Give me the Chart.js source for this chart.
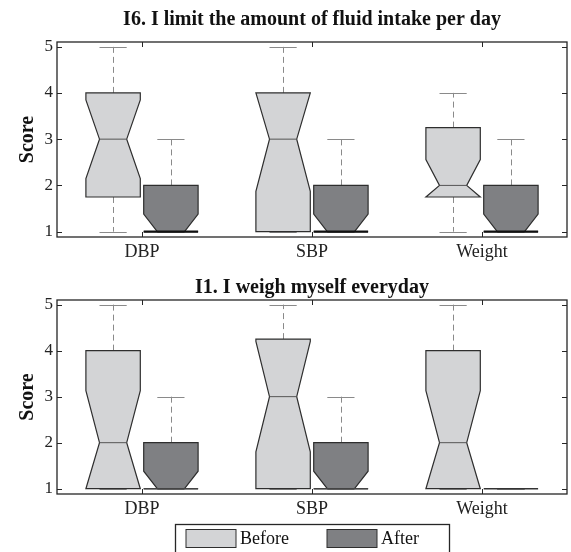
<!DOCTYPE html>
<html>
<head>
<meta charset="utf-8">
<script src="https://cdn.jsdelivr.net/npm/chart.js@4.4.0/dist/chart.umd.min.js"></script>
<style>
  body { margin: 0; background: #fff; }
  #wrap { position: relative; width: 571px; height: 552px; overflow: hidden; }
  #wrap canvas { position: absolute; left: 0; }
  #topChart { top: 0; }
  #botChart { top: 270px; }
</style>
</head>
<body>
<div id="wrap">
  <canvas id="topChart" width="571" height="270"></canvas>
  <canvas id="botChart" width="571" height="282"></canvas>
</div>
<script>
// Data: [min, q1, median, q3, max] per category
const categories = ["DBP", "SBP", "Weight"];
const groups = ["Before", "After"];
const groupColors = ["#d3d4d6", "#7f8083"];

const i6Before = [[1, 1.75, 3, 4, 5], [1, 1, 3, 4, 5], [1, 1.75, 2, 3.25, 4]];
const i6BeforeNotch = [0.85, 1.13, 0.56];
const i6After = [[1, 1, 1, 2, 3], [1, 1, 1, 2, 3], [1, 1, 1, 2, 3]];
const i6AfterNotch = [0.38, 0.38, 0.38];

const i1Before = [[1, 1, 2, 4, 5], [1, 1, 3, 4.25, 5], [1, 1, 2, 4, 5]];
const i1BeforeNotch = [1.13, 1.2, 1.13];
const i1After = [[1, 1, 1, 2, 3], [1, 1, 1, 2, 3], [1, 1, 1, 1, 1]];
const i1AfterNotch = [0.38, 0.38, 0];

const yTicks = [1, 2, 3, 4, 5];

const serif = "'Liberation Serif', 'Times New Roman', serif";
const offset = 0.17;
const halfBox = 0.16;

// draws notched boxes, frame and inward ticks
const notchBoxes = {
  id: "notchBoxes",
  afterDatasetsDraw(chart, args, opts) {
    const { ctx, chartArea: a, scales: { x, y } } = chart;
    const sets = [[opts.before, opts.beforeNotch], [opts.after, opts.afterNotch]];
    ctx.save();
    sets.forEach(([stats, notch], g) => {
      stats.forEach((s, i) => {
        const [mn, q1, med, q3, mx] = s;
        const c = i + 1 + (g === 0 ? -offset : offset);
        const L = x.getPixelForValue(c - halfBox);
        const R = x.getPixelForValue(c + halfBox);
        const C = Math.round(x.getPixelForValue(c)) + 0.5;
        const capL = x.getPixelForValue(c - halfBox / 2);
        const capR = x.getPixelForValue(c + halfBox / 2);
        const d = (R - L) / 4;
        // whiskers
        ctx.strokeStyle = "#8a8a8a";
        ctx.lineWidth = 1;
        ctx.setLineDash([6, 4]);
        ctx.beginPath();
        if (mx > q3) { ctx.moveTo(C, y.getPixelForValue(q3)); ctx.lineTo(C, y.getPixelForValue(mx)); }
        if (mn < q1) { ctx.moveTo(C, y.getPixelForValue(q1)); ctx.lineTo(C, y.getPixelForValue(mn)); }
        ctx.stroke();
        ctx.setLineDash([]);
        ctx.beginPath();
        [mn, mx].forEach(v => {
          const py = Math.round(y.getPixelForValue(v)) + 0.5;
          ctx.moveTo(capL, py); ctx.lineTo(capR, py);
        });
        ctx.stroke();
        if (q3 === q1) {
          ctx.strokeStyle = "#333";
          ctx.lineWidth = 1.5;
          ctx.beginPath();
          const py = y.getPixelForValue(q1);
          ctx.moveTo(L, py); ctx.lineTo(R, py);
          ctx.stroke();
          return;
        }
        // notched box
        const lo = Math.max(med - notch[i], q1);
        const hi = Math.min(med + notch[i], q3);
        const p = v => y.getPixelForValue(v);
        ctx.beginPath();
        ctx.moveTo(L, p(q1));
        ctx.lineTo(R, p(q1));
        ctx.lineTo(R, p(lo));
        ctx.lineTo(R - d, p(med));
        ctx.lineTo(R, p(hi));
        ctx.lineTo(R, p(q3));
        ctx.lineTo(L, p(q3));
        ctx.lineTo(L, p(hi));
        ctx.lineTo(L + d, p(med));
        ctx.lineTo(L, p(lo));
        ctx.closePath();
        ctx.fillStyle = groupColors[g];
        ctx.fill();
        ctx.strokeStyle = "#2e2e2e";
        ctx.lineWidth = 1.2;
        ctx.stroke();
        // median
        ctx.beginPath();
        if (med === q1) {
          ctx.strokeStyle = opts.lowMedColor;
          ctx.lineWidth = opts.lowMedWidth;
          ctx.moveTo(L, p(med)); ctx.lineTo(R, p(med));
        } else {
          ctx.strokeStyle = "#555";
          ctx.lineWidth = 1;
          ctx.moveTo(L + d, p(med)); ctx.lineTo(R - d, p(med));
        }
        ctx.stroke();
      });
    });
    // frame
    ctx.strokeStyle = "#262626";
    ctx.lineWidth = 1.3;
    ctx.strokeRect(a.left, a.top, a.right - a.left, a.bottom - a.top);
    // inward ticks
    ctx.lineWidth = 1;
    ctx.beginPath();
    x.ticks.forEach(t => {
      const px = Math.round(x.getPixelForValue(t.value)) + 0.5;
      ctx.moveTo(px, a.bottom); ctx.lineTo(px, a.bottom - 5);
      ctx.moveTo(px, a.top); ctx.lineTo(px, a.top + 5);
    });
    y.ticks.forEach(t => {
      const py = Math.round(y.getPixelForValue(t.value)) + 0.5;
      ctx.moveTo(a.left, py); ctx.lineTo(a.left + 5, py);
      ctx.moveTo(a.right, py); ctx.lineTo(a.right - 5, py);
    });
    ctx.stroke();
    ctx.restore();
  },
  afterDraw(chart, args, opts) {
    if (!opts.legend) return;
    const { ctx, chartArea: a } = chart;
    const cx = (a.left + a.right) / 2;
    const left = Math.round(cx - 137) + 0.5;
    const top = a.bottom + 30.5;
    ctx.save();
    ctx.strokeStyle = "#262626";
    ctx.lineWidth = 1.3;
    ctx.strokeRect(left, top, 274, 40);
    ctx.font = "18px " + serif;
    ctx.textBaseline = "middle";
    ctx.textAlign = "left";
    groups.forEach((name, g) => {
      const sx = left + 10.5 + g * 141;
      ctx.fillStyle = groupColors[g];
      ctx.fillRect(sx, top + 5, 50, 18);
      ctx.strokeStyle = "#2e2e2e";
      ctx.lineWidth = 1;
      ctx.strokeRect(sx, top + 5, 50, 18);
      ctx.fillStyle = "#111";
      ctx.fillText(name, sx + 54, top + 15);
    });
    ctx.restore();
  }
};

function makeChart(id, title, before, beforeNotch, after, afterNotch, cfg) {
  const medians = (stats, g) => stats.map((s, i) => ({ x: i + 1 + (g === 0 ? -offset : offset), y: s[2] }));
  return new Chart(document.getElementById(id), {
    type: "scatter",
    data: {
      datasets: [
        { label: groups[0], data: medians(before, 0), pointRadius: 0 },
        { label: groups[1], data: medians(after, 1), pointRadius: 0 }
      ]
    },
    options: {
      responsive: false,
      animation: false,
      layout: { padding: { left: 0, right: 4, top: 0, bottom: cfg.padBottom } },
      plugins: {
        legend: { display: false },
        tooltip: { enabled: false },
        title: {
          display: true,
          text: title,
          fullSize: false,
          color: "#111",
          font: { family: serif, size: 20, weight: "bold" },
          padding: cfg.titlePad
        },
        notchBoxes: {
          before, beforeNotch, after, afterNotch,
          lowMedColor: cfg.lowMedColor,
          lowMedWidth: cfg.lowMedWidth,
          legend: cfg.legend
        }
      },
      scales: {
        x: {
          type: "linear",
          min: 0.5,
          max: 3.5,
          grid: { display: false, drawTicks: false },
          border: { display: false },
          ticks: {
            color: "#222",
            padding: 4,
            maxRotation: 0,
            font: { family: serif, size: 18 },
            callback: v => categories[Math.round(v) - 1]
          },
          afterBuildTicks: s => { s.ticks = categories.map((c, i) => ({ value: i + 1 })); },
          afterFit: s => { s.height = cfg.xHeight; }
        },
        y: {
          min: 0.885,
          max: 5.1,
          grid: { display: false, drawTicks: false },
          border: { display: false },
          ticks: {
            color: "#222",
            padding: 4,
            font: { family: serif, size: 17 }
          },
          afterBuildTicks: s => { s.ticks = yTicks.map(v => ({ value: v })); },
          title: {
            display: true,
            text: "Score",
            color: "#111",
            font: { family: serif, size: 20, weight: "bold" },
            padding: { top: 16, bottom: 0 }
          },
          afterFit: s => { s.width = 57; }
        }
      }
    },
    plugins: [notchBoxes]
  });
}

makeChart("topChart", "I6. I limit the amount of fluid intake per day", i6Before, i6BeforeNotch, i6After, i6AfterNotch,
  { padBottom: 0, xHeight: 33, titlePad: { top: 8, bottom: 10 }, lowMedColor: "#111", lowMedWidth: 2.2, legend: false });
makeChart("botChart", "I1. I weigh myself everyday", i1Before, i1BeforeNotch, i1After, i1AfterNotch,
  { padBottom: 28, xHeight: 30, titlePad: { top: 6, bottom: 0 }, lowMedColor: "#444", lowMedWidth: 1.5, legend: true });
</script>
</body>
</html>
